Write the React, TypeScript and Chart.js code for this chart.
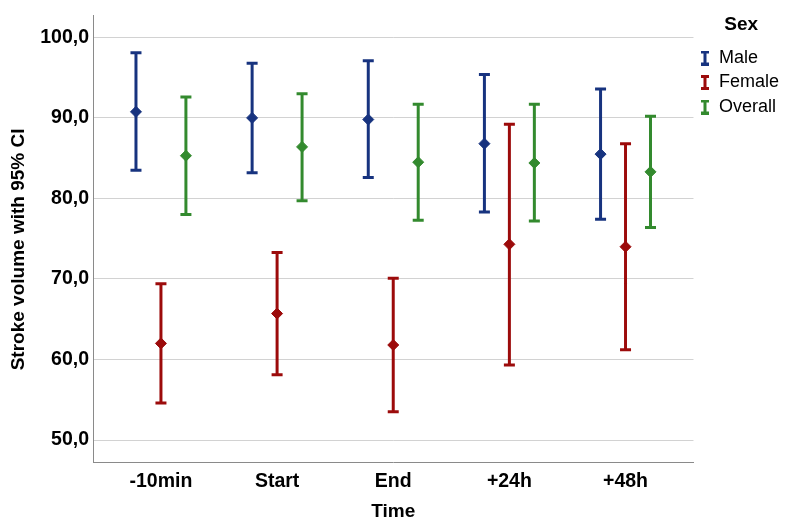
import React, { useEffect, useRef } from "react";
import { Chart, registerables } from "chart.js";

Chart.register(...registerables);

const categories = ["-10min", "Start", "End", "+24h", "+48h"];
const seriesNames = ["Male", "Female", "Overall"];
const seriesColors = ["#17337f", "#9c0b0b", "#338a2e"];

const maleMean = [90.75, 90.0, 89.8, 86.8, 85.5];
const maleLow = [83.5, 83.2, 82.6, 78.3, 77.4];
const maleHigh = [98.1, 96.8, 97.1, 95.4, 93.6];

const femaleMean = [62.0, 65.7, 61.8, 74.3, 74.0];
const femaleLow = [54.6, 58.1, 53.5, 59.3, 61.2];
const femaleHigh = [69.4, 73.3, 70.1, 89.2, 86.8];

const overallMean = [85.3, 86.4, 84.5, 84.4, 83.3];
const overallLow = [78.0, 79.7, 77.3, 77.2, 76.4];
const overallHigh = [92.6, 93.0, 91.7, 91.7, 90.2];

const yTicks = [50, 60, 70, 80, 90, 100];

const means = [maleMean, femaleMean, overallMean];
const lows = [maleLow, femaleLow, overallLow];
const highs = [maleHigh, femaleHigh, overallHigh];
const clusterOffsets = [-0.215, 0, 0.215];

function makeIcon(color: string): HTMLCanvasElement {
  const c = document.createElement("canvas");
  c.width = 10;
  c.height = 15;
  const ctx = c.getContext("2d")!;
  ctx.strokeStyle = color;
  ctx.lineWidth = 3;
  ctx.beginPath();
  ctx.moveTo(1, 1.5);
  ctx.lineTo(9, 1.5);
  ctx.moveTo(5, 1.5);
  ctx.lineTo(5, 13.5);
  ctx.moveTo(1, 13.5);
  ctx.lineTo(9, 13.5);
  ctx.stroke();
  return c;
}

export default function App() {
  const ref = useRef<HTMLCanvasElement | null>(null);

  useEffect(() => {
    document.body.style.margin = "0";
    const canvas = ref.current;
    if (!canvas) return;
    Chart.defaults.font.family = "'Liberation Sans', Arial, sans-serif";
    Chart.defaults.color = "#000";

    const icons = seriesColors.map(makeIcon);

    const ciSets = seriesNames.map((name, s) => {
      const data: any[] = [];
      categories.forEach((_, i) => {
        const x = i + clusterOffsets[s];
        data.push({ x, y: lows[s][i] });
        data.push({ x, y: highs[s][i] });
        data.push({ x, y: null });
      });
      return {
        type: "scatter" as const,
        label: name,
        data,
        showLine: true,
        spanGaps: false,
        borderColor: seriesColors[s],
        borderWidth: 3,
        pointStyle: "line" as const,
        pointRadius: 5.5,
        pointBorderWidth: 3,
        pointBorderColor: seriesColors[s],
        pointBackgroundColor: seriesColors[s],
        order: 2,
      };
    });

    const meanSets = seriesNames.map((name, s) => ({
      type: "scatter" as const,
      label: name + " mean",
      data: categories.map((_, i) => ({ x: i + clusterOffsets[s], y: means[s][i] })),
      showLine: false,
      pointStyle: "rectRot" as const,
      pointRadius: 5.5,
      pointBorderWidth: 1,
      pointBackgroundColor: seriesColors[s],
      pointBorderColor: seriesColors[s],
      order: 1,
    }));

    const chart = new Chart(canvas, {
      type: "scatter",
      data: { datasets: [...ciSets, ...meanSets] as any },
      options: {
        animation: false,
        responsive: false,
        events: [],
        layout: { padding: { left: 0, top: 15, right: 0, bottom: 0 } },
        scales: {
          x: {
            type: "linear",
            min: -0.585,
            max: 4.585,
            afterBuildTicks: (scale: any) => {
              scale.ticks = categories.map((_, i) => ({ value: i }));
            },
            afterFit: (scale: any) => {
              scale.height = 70;
            },
            grid: { display: false, drawTicks: false },
            border: { display: true, color: "#8a8a8a", width: 1 },
            ticks: {
              padding: 8,
              autoSkip: false,
              maxRotation: 0,
              font: { size: 19.5, weight: "bold" },
              color: "#000",
              callback: (v: any) => categories[Math.round(Number(v))] ?? "",
            },
            title: {
              display: true,
              text: "Time",
              font: { size: 19, weight: "bold" },
              color: "#000",
              padding: { top: 0, bottom: 8.6 },
            },
          },
          y: {
            type: "linear",
            min: 47.27,
            max: 102.69,
            afterBuildTicks: (scale: any) => {
              scale.ticks = yTicks.map((v) => ({ value: v }));
            },
            afterFit: (scale: any) => {
              scale.width = 93;
            },
            grid: { color: "#d2d2d2", lineWidth: 1, drawTicks: false },
            border: { display: true, color: "#8a8a8a", width: 1 },
            ticks: {
              padding: 4,
              font: { size: 19.5, weight: "bold" },
              color: "#000",
              callback: (v: any) => Number(v).toFixed(1).replace(".", ","),
            },
            title: {
              display: true,
              text: "Stroke volume with 95% CI    ",
              font: { size: 19, weight: "bold" },
              color: "#000",
              padding: { top: 7, bottom: 0 },
            },
          },
        },
        plugins: {
          tooltip: { enabled: false },
          legend: {
            display: true,
            position: "right",
            align: "start",
            title: {
              display: true,
              text: "Sex",
              font: { size: 19, weight: "bold" },
              color: "#000",
              padding: { top: 0.6, bottom: 4.1 },
            },
            labels: {
              usePointStyle: true,
              boxWidth: 10,
              boxHeight: 14,
              padding: 6.5,
              color: "#000",
              font: { size: 18 },
              generateLabels: () =>
                seriesNames.map((name, s) => ({
                  text: name,
                  pointStyle: icons[s] as any,
                  fillStyle: seriesColors[s],
                  strokeStyle: seriesColors[s],
                  lineWidth: 0,
                  hidden: false,
                  datasetIndex: s,
                  fontColor: "#000",
                })),
            },
          },
        },
      },
    });

    return () => chart.destroy();
  }, []);

  return <canvas ref={ref} width={789} height={532} style={{ display: "block" }} />;
}
